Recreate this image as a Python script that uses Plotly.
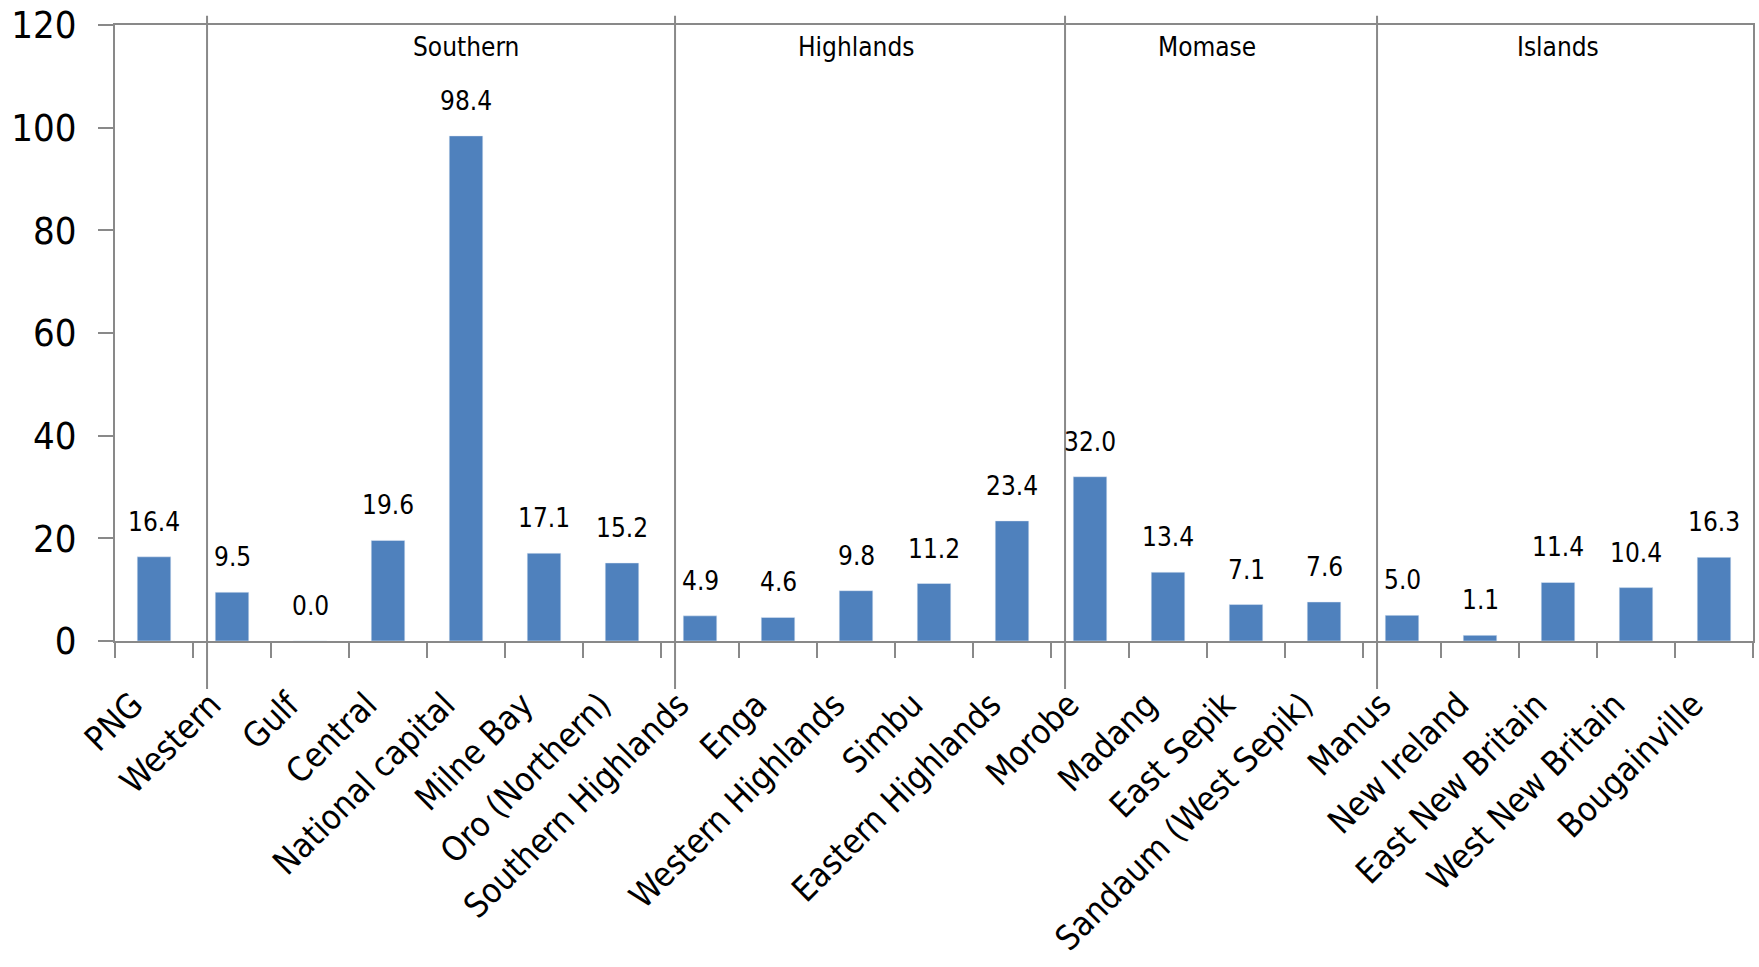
import plotly.graph_objects as go

categories = ["PNG", "Western", "Gulf", "Central", "National capital", "Milne Bay",
              "Oro (Northern)", "Southern Highlands", "Enga", "Western Highlands", "Simbu",
              "Eastern Highlands", "Morobe", "Madang", "East Sepik", "Sandaum (West Sepik)",
              "Manus", "New Ireland", "East New Britain", "West New Britain", "Bougainville"]
values = [16.4, 9.5, 0.0, 19.6, 98.4, 17.1, 15.2, 4.9, 4.6, 9.8, 11.2, 23.4,
          32.0, 13.4, 7.1, 7.6, 5.0, 1.1, 11.4, 10.4, 16.3]
group_names = ["Southern", "Highlands", "Momase", "Islands"]
group_first = ["Western", "Southern Highlands", "Morobe", "Manus"]
group_label_between = [("National capital", "National capital"),
                       ("Western Highlands", "Western Highlands"),
                       ("Madang", "East Sepik"),
                       ("East New Britain", "East New Britain")]
y_ticks = [0, 20, 40, 60, 80, 100, 120]

FONT = "DejaVu Sans Condensed, Liberation Sans Narrow, Arial Narrow, sans-serif"
GRAY = "#898989"
BLUE = "#4F81BD"

n = len(categories)
xidx = list(range(n))
fig = go.Figure()
fig.add_trace(go.Bar(x=xidx, y=values, marker_color=BLUE, width=0.43,
                     hovertext=categories, hoverinfo="text+y"))
# invisible helper trace so the label axis (x2) is drawn
fig.add_trace(go.Scatter(x=xidx, y=[None] * n, xaxis="x2", yaxis="y", mode="markers",
                         hoverinfo="skip", showlegend=False))

for i, v in zip(xidx, values):
    fig.add_annotation(x=i, y=v, text=f"{v:.1f}", showarrow=False, yanchor="middle",
                       yshift=35, font=dict(family=FONT, size=26, color="black"))

sep_offset = 0.32
seps = [categories.index(c) - sep_offset for c in group_first]
for s in seps:
    fig.add_shape(type="line", xref="x", yref="paper", x0=s, x1=s, y0=-0.078, y1=1.015,
                  line=dict(color=GRAY, width=2))
for name, (a, b) in zip(group_names, group_label_between):
    xc = (categories.index(a) + categories.index(b)) / 2
    fig.add_annotation(x=xc, y=1.0, yref="paper", yanchor="middle", yshift=-22,
                       text=name, showarrow=False,
                       font=dict(family=FONT, size=26, color="black"))

label_shift = -0.27
fig.update_layout(
    width=1759, height=967,
    margin=dict(l=115, r=6, t=25, b=326),
    paper_bgcolor="white", plot_bgcolor="white",
    showlegend=False, bargap=0.57,
    font=dict(family=FONT, color="black"),
    xaxis=dict(
        range=[-0.5, n - 0.5], automargin=False,
        tickmode="array", tickvals=[i - 0.5 for i in range(n + 1)], showticklabels=False,
        showline=True, linecolor=GRAY, linewidth=2, mirror=True,
        ticks="outside", ticklen=15, tickcolor=GRAY, tickwidth=1.5,
        showgrid=False, zeroline=False,
    ),
    xaxis2=dict(
        overlaying="x", anchor="y", side="bottom", range=[-0.5, n - 0.5],
        tickmode="array", tickvals=[i + label_shift for i in xidx], ticktext=categories,
        tickangle=-45, ticks="", showline=False, showgrid=False, zeroline=False,
        automargin=False, ticklabelstandoff=36,
        tickfont=dict(family=FONT, size=34, color="black"),
    ),
    yaxis=dict(
        range=[0, 120], tickvals=y_ticks, showline=True, linecolor=GRAY, linewidth=2,
        mirror=True, ticks="outside", ticklen=15, tickcolor=GRAY, tickwidth=1.5,
        showgrid=False, zeroline=False, ticklabelstandoff=14, automargin=False,
        ticklabeloverflow="allow",
        tickfont=dict(family=FONT, size=38, color="black"),
    ),
)

fig.write_html("out.html",
               config={"displayModeBar": False},
               post_script="document.body.style.margin='0';"
                           "document.body.style.overflow='hidden';")
